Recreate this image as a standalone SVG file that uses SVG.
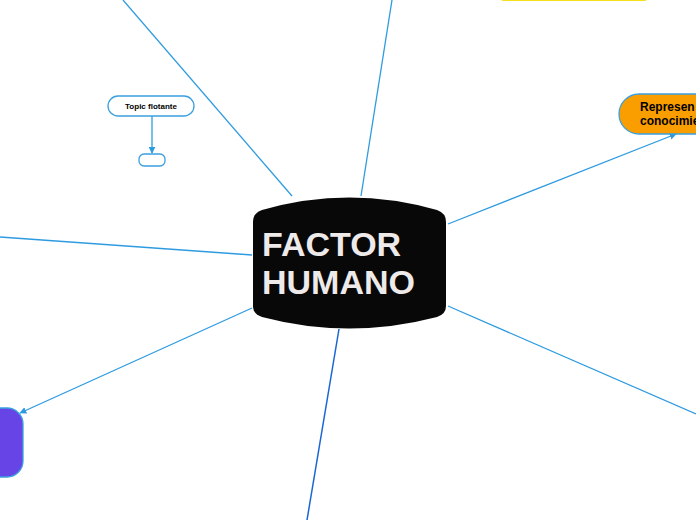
<svg xmlns="http://www.w3.org/2000/svg" width="696" height="520" viewBox="0 0 696 520">
<style>
.ln{stroke:#2e9be0;stroke-width:1.3;fill:none}
.node{stroke:#3aa0e0;stroke-width:1.3}
.t{font-family:"Liberation Sans",Arial,sans-serif;font-weight:bold}
</style>
<defs>
<marker id="ah" viewBox="0 0 10 10" refX="9" refY="5" markerWidth="7" markerHeight="7" orient="auto" markerUnits="userSpaceOnUse">
<path d="M0,0 L10,5 L0,10 Z" fill="#2e9be0"/>
</marker>
</defs>
<rect width="696" height="520" fill="#fff"/>
<g id="connectors">
<line class="ln" x1="123" y1="0" x2="292" y2="196"/>
<line class="ln" x1="392" y1="0" x2="361" y2="196"/>
<line class="ln" x1="448" y1="224" x2="676" y2="134" marker-end="url(#ah)"/>
<line class="ln" x1="0" y1="237" x2="252" y2="255"/>
<line class="ln" x1="252" y1="308" x2="20" y2="413" marker-end="url(#ah)"/>
<line x1="339" y1="329" x2="307" y2="520" stroke="#1a66d4" stroke-width="1.5"/>
<line class="ln" x1="448" y1="306" x2="696" y2="414"/>
<line class="ln" x1="152" y1="116" x2="152" y2="153" marker-end="url(#ah)"/>
</g>
<g id="central">
<path d="M253,222 Q253,213 262,210 Q349,185 437,210 Q446,213 446,222 L446,306 Q446,314 437,317 Q349,340 262,317 Q253,314 253,306 Z" fill="#080808"/>
<text class="t" x="262" y="256" font-size="34" fill="#eeeaea">FACTOR</text>
<text class="t" x="262" y="294" font-size="34" fill="#eeeaea">HUMANO</text>
</g>
<g id="orange">
<rect class="node" x="619" y="94" width="120" height="40" rx="20" fill="#fa9e00"/>
<text class="t" x="640" y="111" font-size="12" fill="#000">Represen</text>
<text class="t" x="640" y="125" font-size="12" fill="#000">conocimie</text>
</g>
<g id="yellow">
<rect x="500" y="-40" width="148" height="41" rx="4" fill="#f5e11a"/>
</g>
<g id="purple">
<rect class="node" x="-40" y="408" width="63" height="69" rx="16" fill="#6644e6"/>
</g>
<g id="floating">
<rect class="node" x="108" y="96" width="86" height="20" rx="10" fill="#fff"/>
<text class="t" x="151" y="109" font-size="8" text-anchor="middle" fill="#000">Topic flotante</text>
</g>
<g id="sub">
<rect class="node" x="139" y="154" width="26" height="12" rx="5" fill="#fff"/>
</g>
</svg>
